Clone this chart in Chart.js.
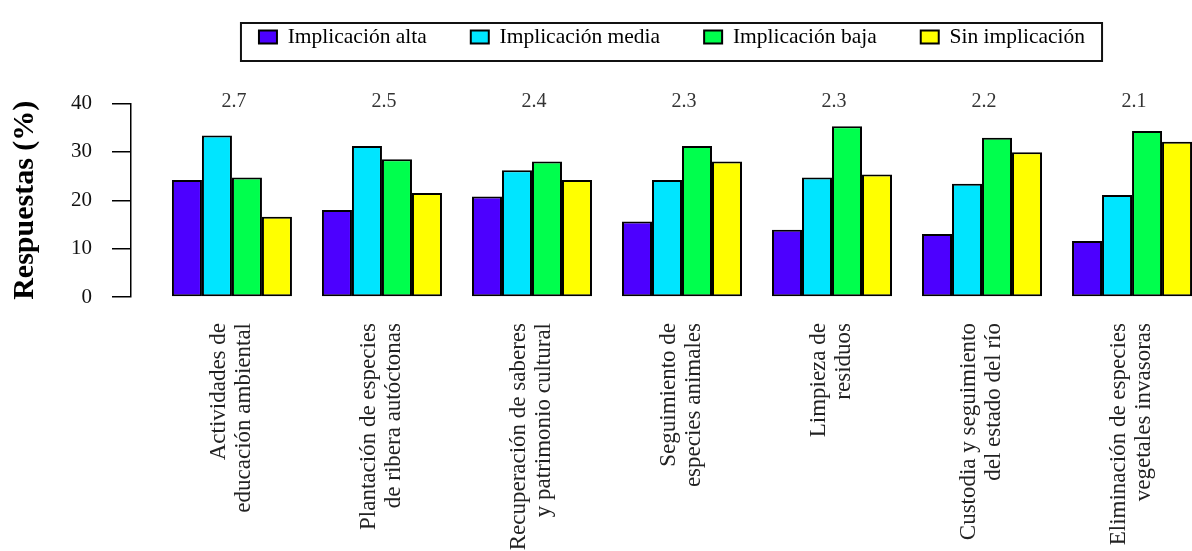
<!DOCTYPE html>
<html>
<head>
<meta charset="utf-8">
<script src="https://cdn.jsdelivr.net/npm/chart.js@4.4.1/dist/chart.umd.min.js"></script>
<style>
  html, body { margin: 0; padding: 0; background: #fff; overflow: hidden; }
  #wrap { width: 1344px; height: 551px; }
</style>
</head>
<body>
<div id="wrap"><canvas id="chart" width="1344" height="551"></canvas></div>
<script>
// categories (two-line labels, as in the original)
const categories = [
  ["Actividades de", "educación ambiental"],
  ["Plantación de especies", "de ribera autóctonas"],
  ["Recuperación de saberes", "y patrimonio cultural"],
  ["Seguimiento de", "especies animales"],
  ["Limpieza de", "residuos"],
  ["Custodia y seguimiento", "del estado del río"],
  ["Eliminación de especies", "vegetales invasoras"],
];

const seriesNames = ["Implicación alta", "Implicación media", "Implicación baja", "Sin implicación"];
const alta  = [24.2, 18.0, 20.8, 15.6, 13.9, 13.0, 11.6];
const media = [33.4, 31.2, 26.2, 24.2, 24.7, 23.4, 21.1];
const baja  = [24.7, 28.5, 28.0, 31.2, 35.3, 32.9, 34.3];
const sin   = [16.6, 21.5, 24.2, 28.0, 25.3, 29.9, 32.1];
const scores = ["2.7", "2.5", "2.4", "2.3", "2.3", "2.2", "2.1"];
const yTicks = [0, 10, 20, 30, 40];

const colors = ["#4C00FF", "#00E5FF", "#00FF4D", "#FFFF00"];
const serif = "'Liberation Serif', 'Times New Roman', serif";

// legend sits above the plot, with a frame round it
const legendFrame = {
  id: "legendFrame",
  afterLayout(chart) {
    const lg = chart.legend;
    if (!lg) return;
    const shift = (37 - 44 - 10.75) - lg.top;
    lg.top += shift;
    lg.bottom += shift;
  },
  afterDraw(chart) {
    const boxes = chart.legend && chart.legend.legendHitBoxes;
    if (!boxes || !boxes.length) return;
    const first = boxes[0];
    const last = boxes[boxes.length - 1];
    const mid = first.top + first.height / 2;
    const left = first.left - 18;
    const right = last.left + last.width + 17;
    const ctx = chart.ctx;
    ctx.save();
    ctx.strokeStyle = "#111";
    ctx.lineWidth = 2;
    ctx.strokeRect(left, mid - 14, right - left, 38);
    ctx.restore();
  },
};

// mean score printed over each group
const scoreLabels = {
  id: "scoreLabels",
  afterDatasetsDraw(chart) {
    const { ctx, scales: { x, y } } = chart;
    ctx.save();
    ctx.font = `20px ${serif}`;
    ctx.fillStyle = "#333";
    ctx.textAlign = "center";
    ctx.textBaseline = "middle";
    scores.forEach((s, i) => {
      ctx.fillText(s, x.getPixelForValue(i) + 2, y.getPixelForValue(yTicks[yTicks.length - 1]) - 2);
    });
    ctx.restore();
  },
};

const seriesValues = [alta, media, baja, sin];

new Chart(document.getElementById("chart"), {
  type: "bar",
  data: {
    datasets: seriesNames.map((name, k) => ({
      label: name,
      data: seriesValues[k].map((v, i) => ({ x: i, y: v })),
      backgroundColor: colors[k],
      borderColor: "#000",
      borderWidth: 2,
      borderSkipped: false,
      categoryPercentage: 0.8,
      barPercentage: 1.0,
    })),
  },
  options: {
    responsive: false,
    animation: false,
    layout: { padding: { top: 28, left: 0, right: 0, bottom: 0 } },
    plugins: {
      legend: {
        position: "top",
        labels: {
          boxWidth: 18,
          boxHeight: 13,
          padding: 44,
          color: "#000",
          font: { family: serif, size: 21.5 },
        },
      },
      tooltip: { enabled: false },
    },
    scales: {
      x: {
        type: "linear",
        offset: false,
        min: -0.673,
        max: 7.413,
        afterBuildTicks: (axis) => {
          axis.ticks = categories.map((_, i) => ({ value: i }));
        },
        afterFit: (axis) => {
          axis.height = 254;
          axis.paddingLeft = 0;
          axis.paddingRight = 0;
        },
        grid: { display: false, drawTicks: false, offset: false },
        border: { display: false },
        ticks: {
          autoSkip: false,
          minRotation: 90,
          maxRotation: 90,
          padding: 26,
          labelOffset: -13,
          color: "#222",
          font: { family: serif, size: 23, lineHeight: 1.1 },
          callback: (value, index) => categories[index],
        },
      },
      y: {
        min: yTicks[0],
        max: yTicks[yTicks.length - 1],
        afterBuildTicks: (axis) => {
          axis.ticks = yTicks.map((v) => ({ value: v }));
        },
        afterFit: (axis) => {
          axis.width = 131;
        },
        grid: { drawOnChartArea: false, drawTicks: true, tickLength: 19, color: "#000", lineWidth: 1.5 },
        border: { display: true, color: "#000", width: 1.5 },
        ticks: {
          padding: 20,
          color: "#111",
          font: { family: serif, size: 21 },
        },
        title: {
          display: true,
          text: "Respuestas (%)",
          color: "#000",
          font: { family: serif, size: 30, weight: "bold" },
          padding: { top: 7, bottom: 0 },
        },
      },
    },
  },
  plugins: [legendFrame, scoreLabels],
});
</script>
</body>
</html>
